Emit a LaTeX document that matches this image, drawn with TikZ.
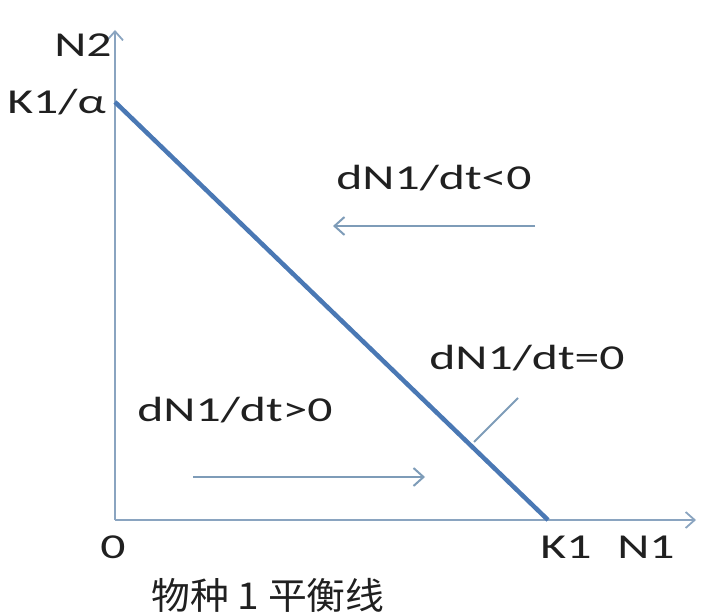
\documentclass[tikz,border=0pt]{standalone}
\usepackage{fontspec}
\setmainfont[FakeStretch=1.42]{Carlito}
\newfontfamily\cjk[FakeStretch=1.05]{Noto Sans CJK SC}
\usetikzlibrary{arrows.meta}
\definecolor{axiscol}{HTML}{8AA4C0}
\definecolor{linecol}{HTML}{4A78B4}
\definecolor{arrcol}{HTML}{7E9CB8}
\definecolor{txtcol}{HTML}{202020}
\begin{document}
\begin{tikzpicture}[x=1pt,y=-1pt,
  lbl/.style={inner sep=0pt,text=txtcol,font=\fontsize{35}{39}\selectfont},
  axis/.style={draw=axiscol,line width=1.8pt,-{Straight Barb[length=9pt,width=16pt]}},
  flow/.style={draw=arrcol,line width=2pt,-{Straight Barb[length=10pt,width=18pt]}}]
\useasboundingbox (0,0) rectangle (702,615);
\coordinate (O) at (115,520);
\coordinate (ytop) at (115,30);
\coordinate (xend) at (696,520);
\coordinate (A) at (115,102);
\coordinate (B) at (548,520);
\draw[axis] (O) -- (ytop);
\draw[axis] (O) -- (xend);
\draw[draw=linecol,line width=4.5pt] (A) -- (B);
\node[lbl] (n2) at (83,45) {N2};
\node[lbl,anchor=east] (k1a) at (106,102) {K1/α};
\node[lbl] (zero) at (113,547) {0};
\node[lbl] (k1) at (566,547) {K1};
\node[lbl] (n1) at (646,547) {N1};
\node[lbl] (neg) at (434,178) {dN1/dt<0};
\node[lbl] (zer) at (527,358) {dN1/dt=0};
\node[lbl] (pos) at (235,410) {dN1/dt>0};
\coordinate (na1) at (535,226);
\coordinate (na2) at (333,226);
\draw[flow] (na1) -- (na2);
\coordinate (pa1) at (193,477);
\coordinate (pa2) at (425,477);
\draw[flow] (pa1) -- (pa2);
\coordinate (l1) at (518,398);
\coordinate (l2) at (474,442);
\draw[draw=arrcol,line width=1.8pt] (l1) -- (l2);
\node[inner sep=0pt,text=txtcol,font=\cjk\fontsize{37}{41}\selectfont] (title) at (268,595) {物种 1 平衡线};
\end{tikzpicture}
\end{document}
